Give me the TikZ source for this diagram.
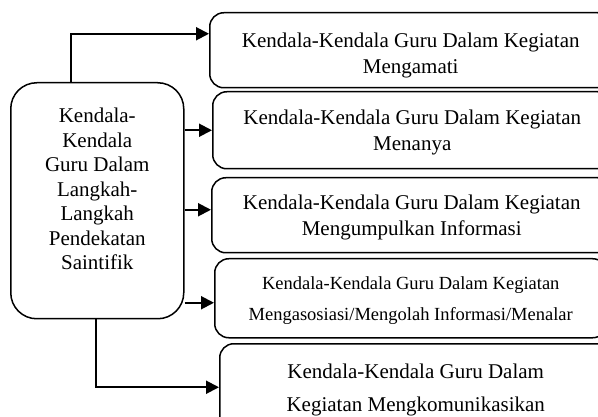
\documentclass[tikz,border=0pt]{standalone}
\usepackage{fontspec}
\setmainfont{Liberation Serif}
\usetikzlibrary{arrows.meta,positioning}
\tikzset{%
	stepbox/.style  = {draw, rectangle, rounded corners=14pt, line width=1.5pt, minimum width=402pt, minimum height=75pt, anchor=north west},
	steptext/.style = {align=center, font=\fontsize{21}{26.5}\selectfont},
	mainbox/.style  = {draw, rectangle, rounded corners=26pt, line width=1.5pt, minimum width=173pt, minimum height=236pt, anchor=north west},
	arrow/.style    = {line width=2pt, -{Triangle[length=13pt,width=13pt]}},
}

\begin{document}
\begin{tikzpicture}[x=1pt,y=-1pt]
	\useasboundingbox (0,0) rectangle (598,417);
	\node[mainbox] (main) at (10,82) {};
	\node[align=center, font=\fontsize{21}{24.5}\selectfont] (maintext) at ([yshift=11.5pt]main.center) {Kendala-\\Kendala\\Guru Dalam\\Langkah-\\Langkah\\Pendekatan\\Saintifik};
	
	\node[stepbox] (b1) at (209,12) {};
	\node[stepbox, minimum width=399pt, minimum height=77pt] (b2) at (212,91) {};
	\node[stepbox, minimum width=400pt] (b3) at (211,177) {};
	\node[stepbox, minimum width=392pt, minimum height=79pt] (b4) at (214,258) {};
	\node[stepbox, minimum width=392pt, minimum height=87pt] (b5) at (219,343) {};
	
	\node[steptext] (t1) at ([yshift=-5pt]b1.center) {Kendala-Kendala Guru Dalam Kegiatan\\Mengamati};
	\node[steptext] (t2) at ([yshift=-2pt]b2.center) {Kendala-Kendala Guru Dalam Kegiatan\\Menanya};
	\node[steptext] (t3) at ([yshift=-2pt]b3.center) {Kendala-Kendala Guru Dalam Kegiatan\\Mengumpulkan Informasi};
	\node[steptext, font=\fontsize{18.5}{31}\selectfont] (t4) at ([yshift=-2pt]b4.center) {Kendala-Kendala Guru Dalam Kegiatan\\Mengasosiasi/Mengolah Informasi/Menalar};
	\node[steptext, font=\fontsize{21}{33}\selectfont] (t5) at ([yshift=-3pt]b5.center) {Kendala-Kendala Guru Dalam\\Kegiatan Mengkomunikasikan};
	
	\coordinate (a1) at ([yshift=16.5pt]b1.west);
	\coordinate (a3) at ([yshift=5.5pt]b3.west);
	\coordinate (a4) at ([yshift=-4.5pt]b4.west);
	\draw[arrow] ([xshift=-26.5pt]main.north) |- (a1);
	\draw[arrow] (main.east |- b2.west) -- (b2.west);
	\draw[arrow] (main.east |- a3) -- (a3);
	\draw[arrow] (main.east |- a4) -- (a4);
	\draw[arrow] ([xshift=-1.5pt]main.south) |- (b5.west);
\end{tikzpicture}
\end{document}
